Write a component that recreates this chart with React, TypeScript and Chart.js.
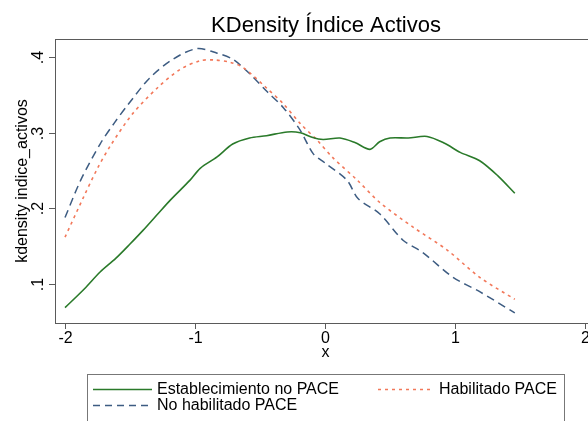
import React, { useEffect, useRef } from "react";
import { Chart, registerables } from "chart.js";

Chart.register(...registerables);

const titleText = "KDensity Índice Activos";
const yTitleText = "kdensity indice_activos";
const xTitleText = "x";

const xTickValues = [-2, -1, 0, 1, 2];
const xTickLabels = ["-2", "-1", "0", "1", "2"];
const yTickValues = [0.1, 0.2, 0.3, 0.4];
const yTickLabels = [".1", ".2", ".3", ".4"];

const seriesLabels = ["Establecimiento no PACE", "Habilitado PACE", "No habilitado PACE"];

const xEstab = [-2.0, -1.85, -1.73, -1.61, -1.5, -1.4, -1.29, -1.19, -1.04, -0.96, -0.83, -0.71, -0.58, -0.45, -0.29, -0.19, -0.1, -0.015, 0.115, 0.23, 0.346, 0.42, 0.5, 0.64, 0.785, 0.92, 1.04, 1.19, 1.33, 1.46];
const yEstab = [0.069, 0.094, 0.116, 0.134, 0.153, 0.171, 0.192, 0.211, 0.237, 0.253, 0.268, 0.285, 0.293, 0.296, 0.301, 0.3, 0.294, 0.291, 0.293, 0.287, 0.278, 0.288, 0.293, 0.293, 0.295, 0.286, 0.274, 0.263, 0.243, 0.22];

const xHabil = [-2.0, -1.86, -1.75, -1.65, -1.48, -1.29, -1.12, -0.96, -0.85, -0.73, -0.63, -0.45, -0.32, -0.19, -0.06, 0.06, 0.25, 0.42, 0.68, 0.94, 1.19, 1.46];
const yHabil = [0.162, 0.214, 0.253, 0.283, 0.325, 0.359, 0.383, 0.395, 0.396, 0.393, 0.386, 0.359, 0.338, 0.312, 0.29, 0.267, 0.237, 0.208, 0.175, 0.145, 0.109, 0.08];

const xNoHab = [-2.0, -1.88, -1.73, -1.62, -1.52, -1.35, -1.17, -0.985, -0.83, -0.71, -0.58, -0.45, -0.32, -0.19, -0.09, 0.0, 0.17, 0.254, 0.42, 0.6, 0.75, 0.985, 1.19, 1.46];
const yNoHab = [0.188, 0.237, 0.285, 0.313, 0.336, 0.372, 0.397, 0.411, 0.405, 0.397, 0.378, 0.355, 0.333, 0.303, 0.272, 0.26, 0.237, 0.213, 0.193, 0.158, 0.142, 0.109, 0.09, 0.062];

const GREEN = "#2a7a2a";
const ORANGE = "#f2785a";
const BLUE = "#3d5c82";
const AXIS = "#5a5a5a";
const FONT = "'Liberation Sans', Arial, sans-serif";

const toPoints = (xs: number[], ys: number[]) => xs.map((x, i) => ({ x, y: ys[i] }));

const decorPlugin = {
  id: "decor",
  afterDraw(chart: any) {
    const { ctx, chartArea, scales } = chart;
    const { left, right, top, bottom } = chartArea;
    const xs = scales.x;
    const ys = scales.y;
    ctx.save();
    ctx.strokeStyle = AXIS;
    ctx.lineWidth = 1;
    ctx.strokeRect(Math.round(left) + 0.5, Math.round(top) + 0.5, Math.round(right - left), Math.round(bottom - top));
    ctx.fillStyle = "#000";
    ctx.font = `16px ${FONT}`;
    ctx.textAlign = "center";
    ctx.textBaseline = "alphabetic";
    xTickValues.forEach((v, i) => {
      const px = Math.round(xs.getPixelForValue(v)) + 0.5;
      ctx.beginPath();
      ctx.moveTo(px, bottom);
      ctx.lineTo(px, bottom + 6);
      ctx.stroke();
      ctx.fillText(xTickLabels[i], px, bottom + 20);
    });
    ctx.fillText(xTitleText, (left + 598) / 2 - 1, bottom + 34);
    yTickValues.forEach((v, i) => {
      const py = Math.round(ys.getPixelForValue(v)) + 0.5;
      ctx.beginPath();
      ctx.moveTo(left, py);
      ctx.lineTo(left - 6, py);
      ctx.stroke();
      ctx.save();
      ctx.translate(left - 12, py);
      ctx.rotate(-Math.PI / 2);
      ctx.textAlign = "center";
      ctx.fillText(yTickLabels[i], 0, 0);
      ctx.restore();
    });
    ctx.save();
    ctx.translate(27, (top + bottom) / 2);
    ctx.rotate(-Math.PI / 2);
    ctx.textAlign = "center";
    ctx.fillText(yTitleText, 0, 0);
    ctx.restore();
    ctx.font = `22px ${FONT}`;
    ctx.fillText(titleText, 326, 32);
    ctx.strokeStyle = "#777";
    ctx.strokeRect(87.5, 374.5, 477, 60);
    ctx.font = `16px ${FONT}`;
    ctx.textAlign = "left";
    ctx.textBaseline = "middle";
    const drawSample = (x0: number, x1: number, y: number, color: string, dash: number[], w: number) => {
      ctx.save();
      ctx.strokeStyle = color;
      ctx.lineWidth = w;
      ctx.setLineDash(dash);
      ctx.beginPath();
      ctx.moveTo(x0, y);
      ctx.lineTo(x1, y);
      ctx.stroke();
      ctx.restore();
    };
    drawSample(93, 152, 389.5, GREEN, [], 1.6);
    ctx.fillText(seriesLabels[0], 157, 390);
    drawSample(378, 432, 389.5, ORANGE, [3, 4], 1.5);
    ctx.fillText(seriesLabels[1], 439, 390);
    drawSample(93, 152, 405.5, BLUE, [7, 5], 1.5);
    ctx.fillText(seriesLabels[2], 157, 406);
    ctx.restore();
  },
};

export default function App() {
  const ref = useRef<HTMLCanvasElement | null>(null);
  useEffect(() => {
    if (!ref.current) return;
    const chart = new Chart(ref.current, {
      type: "line",
      data: {
        datasets: [
          {
            label: seriesLabels[0],
            data: toPoints(xEstab, yEstab),
            borderColor: GREEN,
            borderWidth: 1.6,
            pointRadius: 0,
            tension: 0.3,
          },
          {
            label: seriesLabels[1],
            data: toPoints(xHabil, yHabil),
            borderColor: ORANGE,
            borderWidth: 1.6,
            borderDash: [3, 4],
            pointRadius: 0,
            tension: 0.3,
          },
          {
            label: seriesLabels[2],
            data: toPoints(xNoHab, yNoHab),
            borderColor: BLUE,
            borderWidth: 1.5,
            borderDash: [8, 5],
            pointRadius: 0,
            tension: 0.3,
          },
        ],
      },
      options: {
        responsive: false,
        animation: false,
        layout: { padding: { left: 0, top: 39, right: 22, bottom: 0 } },
        plugins: { legend: { display: false }, title: { display: false }, tooltip: { enabled: false } },
        scales: {
          x: {
            type: "linear",
            min: -2.077,
            max: 2.1,
            grid: { display: false },
            border: { display: false },
            ticks: { display: false, includeBounds: false, stepSize: 1 },
            afterFit: (s: any) => {
              s.height = 98;
            },
          },
          y: {
            type: "linear",
            min: 0.0487,
            max: 0.4237,
            grid: { display: false },
            border: { display: false },
            ticks: { display: false },
            afterFit: (s: any) => {
              s.width = 55;
            },
          },
        },
      },
      plugins: [decorPlugin],
    });
    return () => chart.destroy();
  }, []);
  return (
    <div style={{ position: "fixed", left: 0, top: 0, width: 588, height: 421, overflow: "hidden", background: "#fff" }}>
      <canvas ref={ref} width={620} height={421} style={{ display: "block" }} />
    </div>
  );
}
